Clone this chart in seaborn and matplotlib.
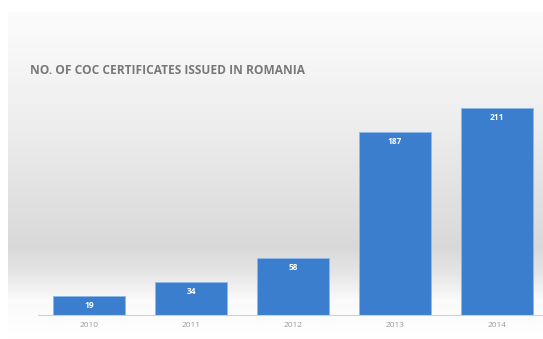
import numpy as np
import pandas as pd
import matplotlib
matplotlib.use("Agg")
import matplotlib.pyplot as plt
import seaborn as sns

# --- data ---
years = ["2010", "2011", "2012", "2013", "2014"]
certificates = [19, 34, 58, 187, 211]
title = "NO. OF COC CERTIFICATES ISSUED IN ROMANIA"

df = pd.DataFrame({"Year": years, "Certificates": certificates})

sns.set_theme(style="white")
plt.rcParams["font.family"] = ["Open Sans", "DejaVu Sans"]

fig = plt.figure(figsize=(5.43, 3.39), dpi=100)
fig.patch.set_facecolor("white")

# background panel with the grey gradient
bg = fig.add_axes([8 / 543, 0, 1 - 8 / 543, 1 - 12 / 339])
rows = np.linspace(0, 1, 300)
shade = np.interp(rows, [0.0, 0.08, 0.35, 0.72, 0.80, 0.88, 1.0],
                  [0.985, 0.975, 0.93, 0.85, 0.90, 0.98, 1.0])
grad = np.repeat(shade[:, None], 10, axis=1)
bg.imshow(np.dstack([grad, grad, grad]), aspect="auto", extent=[0, 1, 0, 1],
          origin="upper")
bg.set_axis_off()

ax = fig.add_axes([38 / 543, 24 / 339, 505 / 543, 245 / 339])
ax.patch.set_alpha(0)
sns.barplot(data=df, x="Year", y="Certificates", color="#3a7ecd",
            width=0.7, saturation=1, edgecolor="#8fb9e8", linewidth=0.6, ax=ax)

ax.set_xlim(-0.5, -0.5 + 505 / 102)
ax.set_ylim(0, 250)
ax.set_xlabel("")
ax.set_ylabel("")
ax.set_yticks([])
for side in ["left", "right", "top"]:
    ax.spines[side].set_visible(False)
ax.spines["bottom"].set_color("#d0d0d0")
ax.spines["bottom"].set_linewidth(0.8)
ax.tick_params(axis="x", length=0, labelsize=6, labelcolor="#9a9a9a", pad=5)

for i, v in enumerate(certificates):
    ax.text(i, v - 5, str(v), ha="center", va="top", fontsize=6,
            color="white", fontweight="bold")

fig.text(30 / 543, 1 - 70 / 339, title, ha="left", va="center",
         fontsize=8.6, fontweight="bold", color="#787878")

fig.savefig("out.png", dpi=100, facecolor="white")
